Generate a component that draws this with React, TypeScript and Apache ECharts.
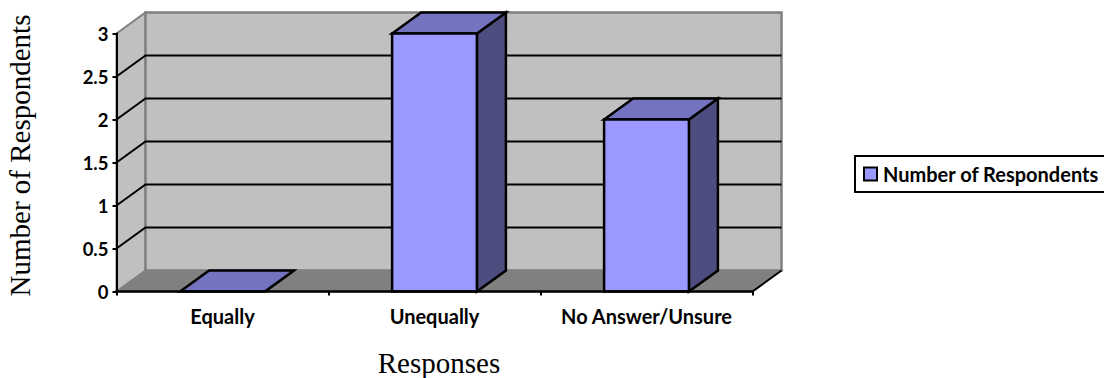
import React, { useEffect, useRef } from "react";
import * as echarts from "echarts";

const categories = ["Equally", "Unequally", "No Answer/Unsure"];
const respondents = [0, 3, 2];
const gridValues = [0.5, 1, 1.5, 2, 2.5];
const seriesName = "Number of Respondents";
const xTitle = "Responses";

// Oblique offset of the back plane relative to the front plane.
const DX = 29;
const DY = -21;
const BAR_SHARE = 0.4;

const FRONT = "#9999FF";
const TOP = "#7373BF";
const SIDE = "#4D4D80";
const WALL = "#C0C0C0";
const FLOOR = "#808080";
const EDGE = "#808080";
const INK = "#000000";

const poly = (points: number[][], fill: string, stroke: string, lineWidth: number) => ({
  type: "polygon",
  shape: { points },
  style: { fill, stroke, lineWidth, lineJoin: "miter" },
});

const line = (a: number[], b: number[], stroke: string, lineWidth: number) => ({
  type: "line",
  shape: { x1: a[0], y1: a[1], x2: b[0], y2: b[1] },
  style: { stroke, lineWidth },
});

// Side wall, back wall and floor of the box.
const renderBox = (params: any) => {
  const { x, y, width, height } = params.coordSys;
  const r = x + width;
  const b = y + height;
  return {
    type: "group",
    children: [
      poly([[x, y], [x + DX, y + DY], [x + DX, b + DY], [x, b]], WALL, EDGE, 2),
      poly([[x + DX, y + DY], [r + DX, y + DY], [r + DX, b + DY], [x + DX, b + DY]], WALL, EDGE, 2.5),
      poly([[x, b], [x + DX, b + DY], [r + DX, b + DY], [r, b]], FLOOR, EDGE, 1.5),
      line([r, b], [r + DX, b + DY], INK, 2),
    ],
  };
};

// A grid line runs up the side wall and then across the back wall.
const renderGridLine = (params: any, api: any) => {
  const { x, width } = params.coordSys;
  const y = api.coord([0, api.value(0)])[1];
  return {
    type: "polyline",
    shape: { points: [[x, y], [x + DX, y + DY], [x + width + DX, y + DY]] },
    style: { fill: "none", stroke: INK, lineWidth: 2 },
  };
};

const renderBar = (_params: any, api: any) => {
  const base = api.coord([api.value(0), 0]);
  const top = api.coord([api.value(0), api.value(1)]);
  const w = api.size([1, 0])[0] * BAR_SHARE;
  const l = base[0] - w / 2;
  const r = base[0] + w / 2;
  const t = top[1];
  const b = base[1];
  const children: any[] = [
    poly([[r, t], [r + DX, t + DY], [r + DX, b + DY], [r, b]], SIDE, INK, 2.5),
    poly([[l, t], [l + DX, t + DY], [r + DX, t + DY], [r, t]], TOP, INK, 2.5),
  ];
  if (b - t > 0) children.push(poly([[l, t], [r, t], [r, b], [l, b]], FRONT, INK, 2.5));
  return { type: "group", children };
};

export default function App() {
  const ref = useRef<HTMLDivElement>(null);

  useEffect(() => {
    document.body.style.margin = "0";
    const chart = echarts.init(ref.current!, null, { renderer: "svg" });
    chart.setOption({
      animation: false,
      backgroundColor: "#FFFFFF",
      grid: { left: 116.5, right: 351.5, top: 33.5, bottom: 86.5, outerBoundsMode: "none", containLabel: false },
      legend: {
        data: [seriesName],
        left: 855,
        top: 156,
        orient: "horizontal",
        padding: [8, 12, 8, 8],
        borderColor: INK,
        borderWidth: 2,
        icon: "rect",
        itemWidth: 13,
        itemHeight: 13,
        itemGap: 0,
        itemStyle: { color: FRONT, borderColor: INK, borderWidth: 2 },
        textStyle: { fontFamily: "Lato", fontWeight: "bold", fontSize: 20, color: INK, padding: [0, 0, 0, 1] },
      },
      xAxis: {
        type: "category",
        data: categories,
        name: xTitle,
        nameLocation: "middle",
        nameGap: 57,
        nameTextStyle: { fontFamily: "Liberation Serif", fontSize: 29, color: INK, padding: [0, 0, 0, 9] },
        z: 5,
        axisLine: { show: true, onZero: false, lineStyle: { color: INK, width: 2.5 } },
        axisTick: { show: true, interval: 0, alignWithLabel: false, length: 4, lineStyle: { color: INK, width: 2 } },
        axisLabel: { interval: 0, fontFamily: "Lato", fontWeight: "bold", fontSize: 20, color: INK, margin: 14 },
        splitLine: { show: false },
      },
      yAxis: {
        type: "value",
        min: 0,
        max: 3,
        interval: 0.5,
        name: seriesName,
        nameLocation: "middle",
        nameGap: 82,
        nameRotate: 90,
        nameTextStyle: { fontFamily: "Liberation Serif", fontSize: 29, color: INK, padding: [0, 0, 0, 14] },
        z: 5,
        axisLine: { show: true, lineStyle: { color: INK, width: 2 } },
        axisTick: { show: true, length: 4, lineStyle: { color: INK, width: 2 } },
        axisLabel: { fontFamily: "Lato", fontWeight: "bold", fontSize: 18.5, color: INK, margin: 8 },
        splitLine: { show: false },
      },
      series: [
        { type: "custom", name: "box", data: [[0, 0]], renderItem: renderBox, silent: true, z: 1, clip: false },
        {
          type: "custom",
          name: "grid",
          data: gridValues.map((v) => [v]),
          encode: { y: 0 },
          renderItem: renderGridLine,
          silent: true,
          z: 2,
          clip: false,
        },
        {
          type: "custom",
          name: seriesName,
          data: respondents.map((v, i) => [i, v]),
          encode: { x: 0, y: 1 },
          renderItem: renderBar,
          itemStyle: { color: FRONT },
          z: 3,
          clip: false,
        },
      ],
    });
    return () => chart.dispose();
  }, []);

  return <div ref={ref} style={{ position: "absolute", left: 0, top: 0, width: 1104, height: 378 }} />;
}
